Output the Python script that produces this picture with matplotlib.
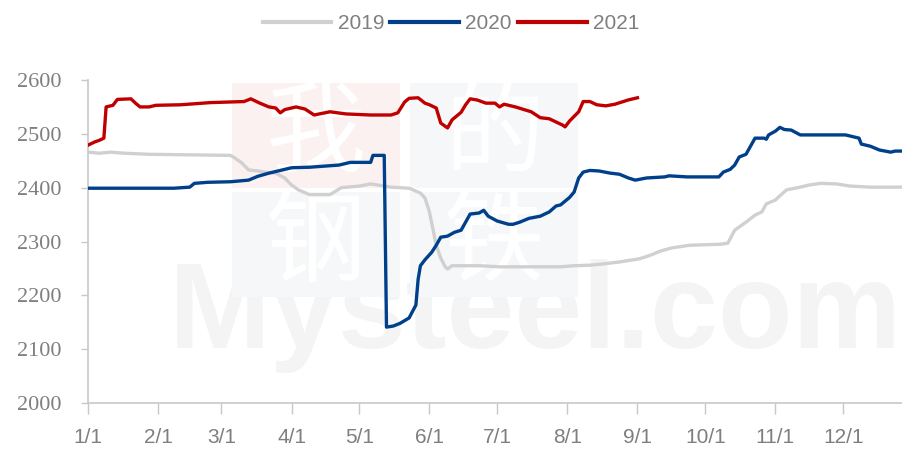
import matplotlib.pyplot as plt
from matplotlib.patches import Rectangle

# day of year (0 = 1/1) and price
d2019 = [0, 5, 10, 16, 27, 45, 63, 65, 68, 71, 75, 78, 83, 87, 90, 93, 98, 107,
         112, 120, 125, 134, 142, 147, 149, 151, 154, 156, 158, 159, 161, 173,
         182, 209, 215, 222, 227, 231, 235, 244, 249, 253, 258, 266, 280, 283,
         286, 291, 295, 298, 300, 304, 306, 309, 315, 319, 324, 331, 337, 346, 360]
p2019 = [2466, 2464, 2466, 2464, 2462, 2461, 2460, 2455, 2446, 2433, 2431, 2429,
         2427, 2418, 2405, 2396, 2387, 2387, 2400, 2403, 2407, 2401, 2399, 2390,
         2381, 2355, 2293, 2269, 2253, 2249, 2255, 2255, 2253, 2253, 2255, 2256,
         2258, 2260, 2262, 2268, 2275, 2282, 2288, 2293, 2295, 2297, 2321, 2336,
         2349, 2355, 2370, 2377, 2385, 2396, 2401, 2405, 2408, 2407, 2403, 2401, 2401]

d2020 = [0, 38, 45, 47, 53, 63, 71, 75, 80, 84, 90, 98, 111, 116, 125, 126, 131,
         132, 135, 138, 142, 145, 146, 147, 149, 152, 154, 156, 159, 162, 165,
         167, 169, 173, 175, 177, 181, 186, 188, 191, 195, 200, 204, 207, 209,
         213, 215, 217, 219, 222, 226, 231, 235, 239, 242, 247, 255, 257, 265,
         279, 281, 284, 286, 288, 291, 293, 295, 299, 300, 301, 304, 306, 308,
         311, 315, 335, 337, 341, 342, 346, 350, 355, 357, 360]
p2020 = [2399, 2399, 2401, 2408, 2410, 2411, 2414, 2421, 2427, 2431, 2437, 2438,
         2442, 2447, 2447, 2460, 2460, 2141, 2143, 2148, 2158, 2182, 2230, 2255,
         2266, 2280, 2293, 2308, 2310, 2317, 2321, 2336, 2351, 2353, 2358, 2347,
         2338, 2332, 2332, 2336, 2343, 2347, 2355, 2366, 2368, 2382, 2392, 2418,
         2429, 2432, 2431, 2427, 2425, 2418, 2414, 2418, 2420, 2422, 2420, 2420,
         2429, 2434, 2442, 2457, 2462, 2477, 2492, 2492, 2490, 2498, 2505, 2512,
         2508, 2507, 2498, 2498, 2496, 2492, 2481, 2477, 2470, 2466, 2468, 2468]

d2021 = [0, 3, 5, 7, 8, 11, 13, 19, 21, 23, 27, 30, 41, 54, 69, 72, 76, 80, 83,
         85, 87, 92, 96, 100, 107, 114, 125, 134, 137, 140, 142, 146, 149, 151,
         154, 156, 159, 161, 165, 167, 169, 172, 176, 180, 182, 184, 189, 196,
         200, 204, 210, 211, 213, 217, 219, 222, 225, 229, 233, 239, 243]
p2021 = [2479, 2485, 2488, 2492, 2550, 2553, 2564, 2565, 2557, 2550, 2550, 2553,
         2554, 2558, 2560, 2565, 2557, 2550, 2548, 2539, 2545, 2550, 2546, 2535,
         2541, 2537, 2535, 2535, 2539, 2559, 2566, 2567, 2557, 2554, 2548, 2520,
         2511, 2526, 2540, 2554, 2565, 2563, 2557, 2557, 2550, 2555, 2550, 2541,
         2530, 2528, 2516, 2513, 2524, 2541, 2560, 2560, 2554, 2552, 2555, 2563, 2567]

month_days = [0, 31, 59, 90, 120, 151, 181, 212, 243, 273, 304, 334]
month_labels = ['1/1', '2/1', '3/1', '4/1', '5/1', '6/1', '7/1', '8/1', '9/1',
                '10/1', '11/1', '12/1']
yticks = [2000, 2100, 2200, 2300, 2400, 2500, 2600]

fig = plt.figure(figsize=(9.02, 4.51), dpi=100)
ax = fig.add_axes([0.0976, 0.1064, 0.9024, 0.7162])

# faint watermark
ax.text(0.55, 0.27, 'Mysteel.com', transform=ax.transAxes, ha='center',
        va='center', fontsize=88, fontweight='bold', color='#f4f4f4', zorder=0,
        family='Liberation Sans')
for (x0, y0, c, ch) in [(0.177, 0.666, '#fcf1f1', '我'), (0.396, 0.666, '#f6f7f9', '的'),
                        (0.177, 0.328, '#f6f7f9', '钢'), (0.396, 0.328, '#f6f7f9', '铁')]:
    ax.add_patch(Rectangle((x0, y0), 0.206, 0.325, transform=ax.transAxes,
                           facecolor=c, edgecolor='none', zorder=0.5))
    ax.text(x0 + 0.103, y0 + 0.16, ch, transform=ax.transAxes, ha='center',
            va='center', fontsize=72, color='white', zorder=0.6,
            family=['Noto Sans CJK SC', 'DejaVu Sans'])

ax.plot(d2019, p2019, color='#d0d0d0', lw=2.4, label='2019', zorder=2)
ax.plot(d2020, p2020, color='#003f8a', lw=2.4, label='2020', zorder=3)
ax.plot(d2021, p2021, color='#c00000', lw=2.4, label='2021', zorder=4)

ax.set_xlim(0, 360)
ax.set_ylim(2000, 2600)
ax.set_xticks(month_days)
ax.set_xticklabels(month_labels, fontsize=15, color='#7f7f7f', family='Liberation Sans')
ax.set_yticks(yticks)
ax.set_yticklabels([str(v) for v in yticks], fontsize=16, color='#7f7f7f',
                   family='Liberation Serif')
ax.tick_params(axis='x', length=8, width=1, color='#c8c8c8', pad=10)
ax.tick_params(axis='y', length=5, width=1, color='#c8c8c8', pad=14)
for s in ['top', 'right']:
    ax.spines[s].set_visible(False)
for s in ['left', 'bottom']:
    ax.spines[s].set_color('#c8c8c8')
    ax.spines[s].set_linewidth(1.2)

leg = fig.legend(loc='upper center', bbox_to_anchor=(0.5, 1.01), ncol=3,
                 frameon=False, handlelength=3.3, handletextpad=0.3,
                 columnspacing=0.3, prop={'family': 'Liberation Sans', 'size': 15})
for t in leg.get_texts():
    t.set_color('#7f7f7f')
for l in leg.get_lines():
    l.set_linewidth(3)

fig.savefig('out.png', dpi=100)
